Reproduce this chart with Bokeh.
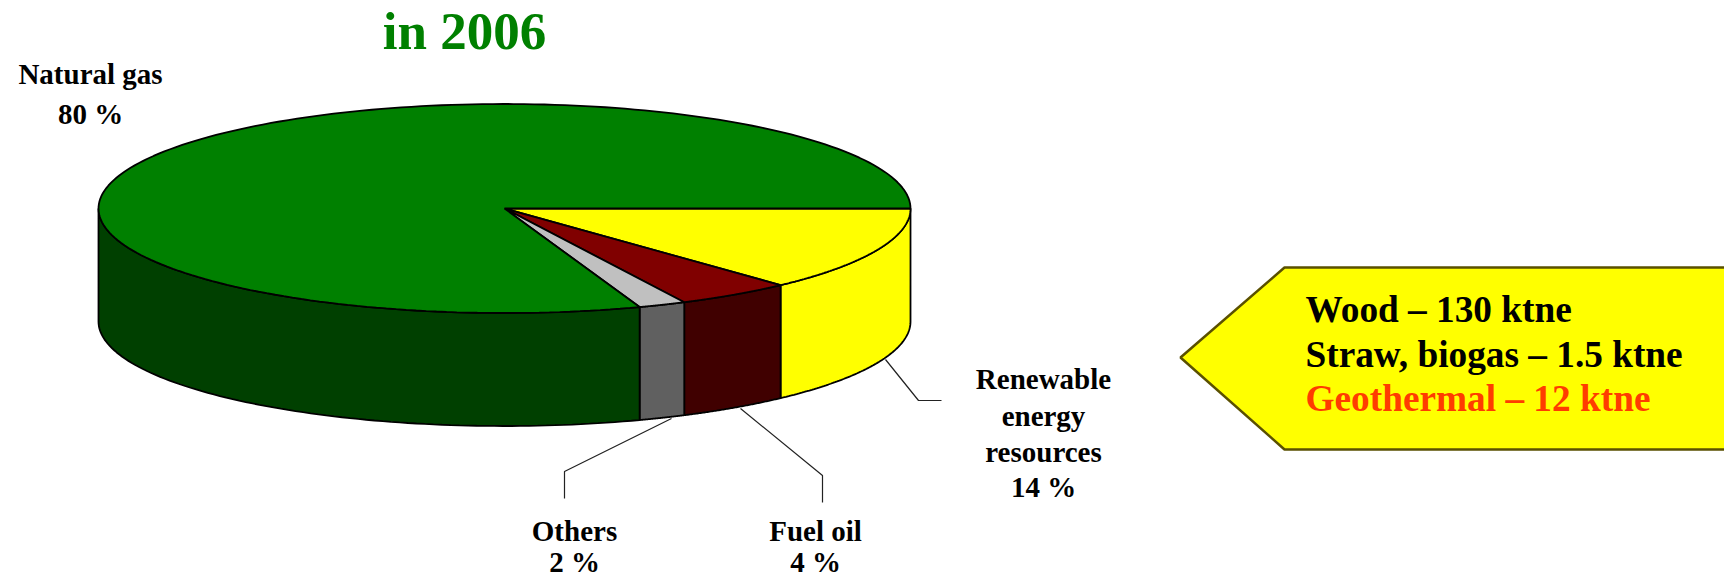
import numpy as np
from bokeh.plotting import figure
from bokeh.models import Range1d
from bokeh.core.properties import value
from bokeh.embed import file_html
from bokeh.resources import INLINE

# data (clockwise from the right-hand side of the pie)
categories = ["Renewable energy resources", "Fuel oil", "Others", "Natural gas"]
labels_pct = [14, 4, 2, 80]
# slice sizes as drawn in the picture (its printed labels are rounded)
shares = [13.1, 4.6, 1.9, 80.4]
top_colors = ["#FFFF00", "#800000", "#C0C0C0", "#008000"]
side_colors = ["#FFFF00", "#400000", "#606060", "#004000"]
box_lines = ["Wood – 130 ktne", "Straw, biogas – 1.5 ktne", "Geothermal – 12 ktne"]
box_colors = ["#000000", "#000000", "#FF3C00"]

W, H = 1724, 577
FONT = value("Liberation Serif")
p = figure(width=W, height=H, x_range=Range1d(0, W), y_range=Range1d(H, 0),
           output_backend="svg", toolbar_location=None, min_border=0,
           outline_line_color=None, x_axis_location=None, y_axis_location=None)
p.xgrid.visible = False
p.ygrid.visible = False
p.background_fill_color = "white"

cx, cy, a, b, depth = 504, 208, 406, 104.5, 113
edges = np.cumsum([0] + shares) / sum(shares) * 2 * np.pi

# sides (only the front half, t in 0..pi, is visible)
for i in range(len(shares)):
    t0, t1 = edges[i], min(edges[i + 1], np.pi)
    if t0 >= np.pi:
        continue
    t = np.linspace(t0, t1, 90)
    xs = cx + a * np.cos(t)
    ys = cy + b * np.sin(t)
    p.patch(np.r_[xs, xs[::-1]], np.r_[ys, ys[::-1] + depth],
            fill_color=side_colors[i], line_color="black", line_width=1.8)

# tops
for i in range(len(shares)):
    t = np.linspace(edges[i], edges[i + 1], 200)
    p.patch(np.r_[cx, cx + a * np.cos(t)], np.r_[cy, cy + b * np.sin(t)],
            fill_color=top_colors[i], line_color="black", line_width=1.8)

# leader lines
for lx, ly in [([885, 918, 941], [359, 400, 400]),
               ([671, 564, 564], [418, 471, 498]),
               ([740, 822, 822], [408, 475, 502])]:
    p.line(lx, ly, line_color="#222222", line_width=1.2)


def label(x, y, txt, size, color="black", align="center"):
    p.text([x], [y], text=[txt], text_font=FONT, text_font_style="bold",
           text_font_size=size, text_color=color, text_align=align,
           text_baseline="middle")


label(464, 30, "in 2006", "53px", "#008000")
label(90, 73, "Natural gas", "29px")
label(90, 113, f"{labels_pct[3]} %", "29px")
for yy, txt in zip([378, 415, 451, 486], ["Renewable", "energy", "resources", f"{labels_pct[0]} %"]):
    label(1043, yy, txt, "29px")
label(574, 530, categories[2], "29px")
label(574, 561, f"{labels_pct[2]} %", "29px")
label(815, 530, categories[1], "29px")
label(815, 561, f"{labels_pct[1]} %", "29px")

# call-out arrow
p.patch([1180, 1284, 1740, 1740, 1284], [357, 267, 267, 449, 449],
        fill_color="#FFFF00", line_color="#5A5000", line_width=2.5)
for yy, txt, col in zip([309, 354, 398], box_lines, box_colors):
    label(1305, yy, txt, "37.3px", col, "left")

open("out.html", "w").write(file_html(p, INLINE))
